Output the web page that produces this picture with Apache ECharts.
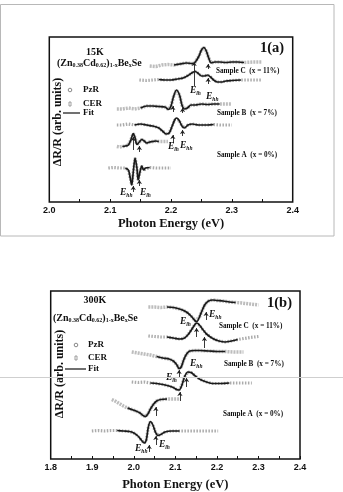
<!DOCTYPE html>
<html>
<head>
<meta charset="utf-8">
<script src="https://cdn.jsdelivr.net/npm/echarts@6/dist/echarts.min.js"></script>
<style>
  html, body { margin: 0; padding: 0; background: #fff; }
  #chart { width: 343px; height: 492px; }
</style>
</head>
<body>
<div id="chart"></div>
<script>
// ---- data (x: photon energy eV, y: dR/R arb. units) ----
// panel (a) 15K
const a_C_pzr = [[2.165,13.6],[2.175,13.55],[2.185,13.7],[2.195,13.75],[2.205,13.7],[2.215,13.8],[2.225,13.9],[2.235,13.85],[2.240,14.0],[2.246,14.6],[2.250,15.2],[2.254,15.45],[2.258,15.1],[2.262,14.4],[2.266,13.9],[2.272,14.0],[2.28,14.0],[2.29,13.95],[2.30,14.0],[2.31,14.0],[2.32,13.95],[2.335,14.0],[2.35,14.0]];
const a_C_cer = [[2.148,12.2],[2.16,12.15],[2.17,12.2],[2.18,12.25],[2.19,12.2],[2.20,12.2],[2.21,12.3],[2.22,12.4],[2.228,12.65],[2.234,12.9],[2.240,13.05],[2.245,12.85],[2.250,12.6],[2.255,12.6],[2.260,12.7],[2.265,12.5],[2.270,12.2],[2.276,12.0],[2.283,12.0],[2.29,12.1],[2.30,12.15],[2.315,12.2],[2.33,12.2],[2.35,12.2]];
const a_B_pzr = [[2.111,9.3],[2.12,9.3],[2.13,9.4],[2.14,9.3],[2.15,9.4],[2.16,9.6],[2.17,9.6],[2.18,9.55],[2.19,9.5],[2.196,9.25],[2.200,9.6],[2.204,10.5],[2.209,11.2],[2.214,10.7],[2.218,9.7],[2.222,9.3],[2.227,9.4],[2.233,9.7],[2.24,9.7],[2.25,9.8],[2.26,9.75],[2.27,9.8],[2.28,9.8],[2.29,9.8],[2.30,9.8]];
const a_B_cer = [[2.111,7.7],[2.12,7.7],[2.13,7.8],[2.14,7.7],[2.15,7.8],[2.16,7.7],[2.17,7.6],[2.18,7.4],[2.186,7.1],[2.192,6.8],[2.197,6.9],[2.202,7.6],[2.206,8.2],[2.209,8.4],[2.213,8.2],[2.218,7.6],[2.222,7.4],[2.228,7.7],[2.235,7.8],[2.245,7.7],[2.26,7.7],[2.27,7.75],[2.28,7.7],[2.29,7.7],[2.30,7.7]];
const a_A_pzr = [[2.111,5.55],[2.115,5.5],[2.12,5.55],[2.125,5.6],[2.13,5.7],[2.134,6.2],[2.138,6.85],[2.141,6.4],[2.144,5.75],[2.148,6.0],[2.152,6.25],[2.156,6.1],[2.16,5.9],[2.165,6.0],[2.17,6.05],[2.175,6.1],[2.18,6.05],[2.185,6.05],[2.19,6.05],[2.195,6.05]];
const a_A_cer = [[2.097,3.4],[2.105,3.45],[2.115,3.4],[2.125,3.4],[2.13,3.2],[2.133,2.4],[2.1355,1.7],[2.138,3.0],[2.141,4.4],[2.144,3.4],[2.146,2.2],[2.149,3.0],[2.152,3.6],[2.155,3.2],[2.158,3.4],[2.165,3.45],[2.175,3.4],[2.185,3.4],[2.20,3.4]];
// panel (b) 300K
const b_C_pzr = [[2.035,15.2],[2.05,15.2],[2.065,15.15],[2.08,15.2],[2.095,15.15],[2.11,15.0],[2.12,14.85],[2.13,14.6],[2.14,14.2],[2.148,13.8],[2.152,13.75],[2.158,14.2],[2.165,14.9],[2.172,15.5],[2.18,15.8],[2.19,15.9],[2.20,15.85],[2.215,15.8],[2.23,15.7],[2.245,15.65],[2.26,15.6],[2.28,15.5],[2.30,15.4]];
const b_C_cer = [[2.035,12.3],[2.05,12.25],[2.065,12.2],[2.08,12.2],[2.095,12.1],[2.11,12.0],[2.12,12.05],[2.13,12.4],[2.14,13.0],[2.148,13.5],[2.152,13.6],[2.158,13.4],[2.165,13.0],[2.175,12.5],[2.19,12.05],[2.205,11.8],[2.22,11.7],[2.235,11.8],[2.25,11.95],[2.265,12.05],[2.28,12.15],[2.30,12.25]];
const b_B_pzr = [[1.995,10.7],[2.01,10.6],[2.025,10.5],[2.04,10.4],[2.055,10.25],[2.07,10.1],[2.085,10.0],[2.095,9.8],[2.103,9.45],[2.109,9.05],[2.114,9.2],[2.12,9.9],[2.127,10.5],[2.135,10.8],[2.145,10.85],[2.16,10.85],[2.18,10.8],[2.20,10.75],[2.22,10.75],[2.24,10.7],[2.264,10.7]];
const b_B_cer = [[1.995,7.7],[2.01,7.65],[2.025,7.7],[2.04,7.6],[2.055,7.55],[2.07,7.45],[2.085,7.3],[2.095,7.15],[2.103,6.95],[2.109,6.9],[2.115,7.3],[2.122,8.2],[2.13,8.7],[2.138,8.65],[2.148,8.3],[2.16,7.95],[2.175,7.7],[2.19,7.55],[2.21,7.55],[2.23,7.6],[2.25,7.6],[2.27,7.6],[2.284,7.6]];
const b_A_pzr = [[1.947,5.95],[1.955,5.8],[1.965,5.55],[1.975,5.3],[1.985,5.1],[1.995,4.95],[2.005,4.8],[2.015,4.6],[2.022,4.35],[2.028,4.25],[2.034,4.5],[2.04,5.0],[2.047,5.45],[2.055,5.8],[2.065,5.95],[2.08,6.0],[2.095,6.0],[2.111,6.0]];
const b_A_cer = [[1.899,2.8],[1.915,2.85],[1.93,2.8],[1.945,2.85],[1.96,2.85],[1.975,2.8],[1.99,2.75],[2.0,2.6],[2.01,2.3],[2.018,1.9],[2.025,1.6],[2.03,1.9],[2.035,3.2],[2.04,3.75],[2.046,3.4],[2.052,2.7],[2.058,2.35],[2.065,2.45],[2.075,2.7],[2.09,2.8],[2.11,2.8],[2.13,2.8],[2.15,2.8],[2.17,2.8],[2.19,2.8],[2.203,2.8]];

// fit ranges (eV) where the solid line is drawn
const fitA = { C_pzr: [2.20, 2.33], C_cer: [2.18, 2.32], B_pzr: [2.15, 2.28], B_cer: [2.14, 2.27], A_pzr: [2.118, 2.18], A_cer: [2.12, 2.17] };
const fitB = { C_pzr: [2.07, 2.25], C_cer: [2.07, 2.25], B_pzr: [2.05, 2.22], B_cer: [2.04, 2.23], A_pzr: [1.985, 2.09], A_cer: [1.96, 2.12] };

// transition arrows [eV, from, to]
const arrowsA = [[2.238,11.6,14.0],[2.261,13.3,13.8],[2.261,11.8,12.4],[2.203,9.0,9.6],[2.203,5.9,6.7],[2.219,8.9,9.4],[2.219,6.6,7.2],[2.138,5.2,6.5],[2.138,1.0,1.6],[2.148,5.0,5.6],[2.148,1.6,2.2]];
const arrowsB = [[2.151,12.2,13.1],[2.170,11.1,12.2],[2.174,13.9,14.7],[2.109,8.2,8.9],[2.111,5.8,6.7],[2.127,7.2,8.1],[2.037,0.7,1.4],[2.053,1.4,2.3],[2.053,4.3,5.2]];

const ticksA = [2.0, 2.4];
const ticksB = [1.8, 2.4];

const SERIF = '"Liberation Serif", "DejaVu Serif", serif';
const SANS = '"Liberation Sans", Arial, sans-serif';

const chart = echarts.init(document.getElementById('chart'));

function curveSeries(pts, kind, range, gi) {
  const out = [];
  // raw data points (grey band of symbols)
  out.push({
    type: 'line', xAxisIndex: gi, yAxisIndex: gi, data: pts, symbol: 'none',
    lineStyle: kind === 'pzr'
      ? { color: '#bdbdbd', width: 3.5, type: [2, 1] }
      : { color: '#ababab', width: 3.2, type: [1.5, 1.5] },
    z: 2, silent: true
  });
  // fit
  out.push({
    type: 'line', xAxisIndex: gi, yAxisIndex: gi, symbol: 'none', smooth: 0.3,
    data: pts.filter(p => p[0] >= range[0] && p[0] <= range[1]),
    lineStyle: { color: '#1a1a1a', width: 1.7 }, z: 3, silent: true
  });
  return out;
}

function arrowSeries(list, gi) {
  return {
    type: 'lines', coordinateSystem: 'cartesian2d', xAxisIndex: gi, yAxisIndex: gi,
    symbol: ['none', 'arrow'], symbolSize: 4, silent: true, z: 4,
    lineStyle: { color: '#222', width: 0.9, opacity: 1 },
    data: list.map(a => ({ coords: [[a[0], a[1]], [a[0], a[2]]] }))
  };
}

const series = [].concat(
  curveSeries(a_C_pzr, 'pzr', fitA.C_pzr, 0), curveSeries(a_C_cer, 'cer', fitA.C_cer, 0),
  curveSeries(a_B_pzr, 'pzr', fitA.B_pzr, 0), curveSeries(a_B_cer, 'cer', fitA.B_cer, 0),
  curveSeries(a_A_pzr, 'pzr', fitA.A_pzr, 0), curveSeries(a_A_cer, 'cer', fitA.A_cer, 0),
  curveSeries(b_C_pzr, 'pzr', fitB.C_pzr, 1), curveSeries(b_C_cer, 'cer', fitB.C_cer, 1),
  curveSeries(b_B_pzr, 'pzr', fitB.B_pzr, 1), curveSeries(b_B_cer, 'cer', fitB.B_cer, 1),
  curveSeries(b_A_pzr, 'pzr', fitB.A_pzr, 1), curveSeries(b_A_cer, 'cer', fitB.A_cer, 1),
  [arrowSeries(arrowsA, 0), arrowSeries(arrowsB, 1)]
);

function xAxis(gi, range, gap) {
  return {
    type: 'value', gridIndex: gi, min: range[0], max: range[1], interval: 0.1,
    name: 'Photon Energy (eV)', nameLocation: 'middle', nameGap: gap,
    nameTextStyle: { fontFamily: SERIF, fontWeight: 'bold', fontSize: 12.5, color: '#111' },
    axisLine: { show: false },
    axisTick: { show: true, inside: true, length: 3, lineStyle: { color: '#111', width: 1 } },
    minorTick: { show: true, splitNumber: 2, length: 3, lineStyle: { color: '#111', width: 1 } },
    splitLine: { show: false },
    axisLabel: { margin: 4, fontFamily: SANS, fontWeight: 'bold', fontSize: 9, color: '#111',
      formatter: v => v.toFixed(1) }
  };
}

// text helpers
function txt(x, y, text, size, align) {
  return {
    type: 'text', x: x, y: y, z: 10,
    style: { text: text, fontFamily: SERIF, fontWeight: 'bold', fontSize: size, fill: '#111',
      align: align || 'left', verticalAlign: 'middle' }
  };
}
const richBase = {
  b: { fontFamily: SERIF, fontWeight: 'bold', fontSize: 10, fill: '#111' },
  s: { fontFamily: SERIF, fontWeight: 'bold', fontSize: 6, fill: '#111', padding: [5, 0, 0, 0] },
  e: { fontFamily: SERIF, fontWeight: 'bold', fontStyle: 'italic', fontSize: 9.5, fill: '#111' },
  es: { fontFamily: SERIF, fontWeight: 'bold', fontStyle: 'italic', fontSize: 5.5, fill: '#111', padding: [5, 0, 0, 0] }
};
function rtxt(x, y, text) {
  return { type: 'text', x: x, y: y, z: 10,
    style: { text: text, rich: richBase, align: 'left', verticalAlign: 'middle' } };
}
function ytitle(x, y) {
  return { type: 'text', x: x, y: y, rotation: Math.PI / 2, z: 10,
    style: { text: '\u0394R/R (arb. units)', fontFamily: SERIF, fontWeight: 'bold', fontSize: 12,
      fill: '#111', align: 'center', verticalAlign: 'middle' } };
}
const formula = '{b|(Zn}{s|0.38}{b|Cd}{s|0.62}{b|)}{s|1-x}{b|Be}{s|x}{b|Se}';
const Elh = '{e|E}{es|lh}';
const Ehh = '{e|E}{es|hh}';

const graphic = [
  // scan frame and stray line
  { type: 'rect', shape: { x: 0.5, y: 4.5, width: 333.5, height: 231.5 }, style: { fill: 'none', stroke: '#b8b8b8', lineWidth: 1 }, z: 0 },
  { type: 'line', shape: { x1: 0, y1: 377.5, x2: 343, y2: 377.5 }, style: { stroke: '#cfcfcf', lineWidth: 1 }, z: 20 },

  // panel (a)
  txt(95, 52, '15K', 10, 'center'),
  rtxt(57, 63, formula),
  txt(260, 48, '1(a)', 14.5),
  txt(216, 71, 'Sample C  (x = 11%)', 7.2),
  txt(217, 113, 'Sample B  (x = 7%)', 7.2),
  txt(217, 155, 'Sample A  (x = 0%)', 7.2),
  { type: 'circle', shape: { cx: 70, cy: 90, r: 1.8 }, style: { fill: 'none', stroke: '#888', lineWidth: 1 }, z: 10 },
  { type: 'rect', shape: { x: 69, y: 102, width: 2, height: 4 }, style: { fill: 'none', stroke: '#888', lineWidth: 0.8 }, z: 10 },
  { type: 'line', shape: { x1: 63, y1: 113, x2: 80, y2: 113 }, style: { stroke: '#111', lineWidth: 1.2 }, z: 10 },
  txt(83, 90, 'PzR', 9), txt(83, 104, 'CER', 9), txt(83, 113, 'Fit', 9),
  ytitle(58, 122),
  rtxt(190, 91, Elh), rtxt(206, 97, Ehh),
  rtxt(168, 147, Elh), rtxt(180, 146, Ehh),
  rtxt(120, 193, Ehh), rtxt(140, 193, Elh),

  // panel (b)
  txt(95, 300, '300K', 10, 'center'),
  rtxt(53, 318, formula),
  txt(267, 303, '1(b)', 14.5),
  txt(219, 326, 'Sample C  (x = 11%)', 7.2),
  txt(224, 364, 'Sample B  (x = 7%)', 7.2),
  txt(223, 414, 'Sample A  (x = 0%)', 7.2),
  { type: 'circle', shape: { cx: 76, cy: 345, r: 1.8 }, style: { fill: 'none', stroke: '#888', lineWidth: 1 }, z: 10 },
  { type: 'rect', shape: { x: 75, y: 356, width: 2, height: 4 }, style: { fill: 'none', stroke: '#888', lineWidth: 0.8 }, z: 10 },
  { type: 'line', shape: { x1: 65, y1: 369, x2: 86, y2: 369 }, style: { stroke: '#111', lineWidth: 1.2 }, z: 10 },
  txt(88, 345, 'PzR', 9), txt(88, 358, 'CER', 9), txt(88, 369, 'Fit', 9),
  ytitle(60, 374),
  rtxt(180, 322, Elh), rtxt(209, 315, Ehh),
  rtxt(166, 378, Elh), rtxt(190, 364, Ehh),
  rtxt(135, 449, Ehh), rtxt(159, 445, Elh)
];

chart.setOption({
  backgroundColor: '#fff',
  animation: false,
  grid: [
    { left: 49.3, top: 37, width: 243.4, height: 165, show: true, borderColor: '#111', borderWidth: 1.5, backgroundColor: 'transparent' },
    { left: 50.7, top: 291, width: 249.3, height: 168, show: true, borderColor: '#111', borderWidth: 1.5, backgroundColor: 'transparent' }
  ],
  xAxis: [xAxis(0, ticksA, 15), xAxis(1, ticksB, 19)],
  yAxis: [
    { type: 'value', gridIndex: 0, min: 0, max: 16.5, show: false },
    { type: 'value', gridIndex: 1, min: 0, max: 16.8, show: false }
  ],
  graphic: graphic,
  series: series
});
</script>
</body>
</html>
